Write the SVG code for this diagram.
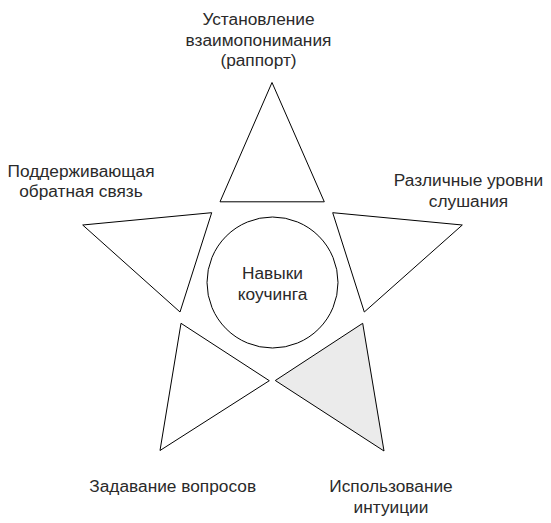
<svg xmlns="http://www.w3.org/2000/svg" width="551" height="523" viewBox="0 0 551 523">
<style>
.shape{fill:#ffffff;stroke:#000000;stroke-width:1;stroke-linejoin:miter}
.gray{fill:#ebebeb}
.lbl{font-family:"Liberation Sans",Arial,sans-serif;font-size:17.3px;fill:#2a2a2a;text-anchor:middle}
</style>
<rect width="551" height="523" fill="#ffffff"/>
<g id="center">
<circle class="shape" cx="272.5" cy="282.5" r="65.5"/>
<text class="lbl" x="272.5" y="279">Навыки</text>
<text class="lbl" x="272.5" y="300">коучинга</text>
</g>
<g id="top">
<polygon class="shape" points="272,82.5 220,201.8 324.3,201.8"/>
<text class="lbl" x="258.5" y="25">Установление</text>
<text class="lbl" x="258.5" y="46">взаимопонимания</text>
<text class="lbl" x="258.5" y="66">(раппорт)</text>
</g>
<g id="left">
<polygon class="shape" points="82.7,225 211.7,212.7 180,312"/>
<text class="lbl" x="81" y="177">Поддерживающая</text>
<text class="lbl" x="81" y="197">обратная связь</text>
</g>
<g id="right">
<polygon class="shape" points="332.7,212.7 462.3,225 364.3,312"/>
<text class="lbl" x="468.5" y="186">Различные уровни</text>
<text class="lbl" x="468.5" y="206.5">слушания</text>
</g>
<g id="bottom-left">
<polygon class="shape" points="181,323.3 269.3,380.7 160,450.5"/>
<text class="lbl" x="172.7" y="492">Задавание вопросов</text>
</g>
<g id="bottom-right">
<polygon class="shape gray" points="362.7,323.3 275.3,380.5 384,451"/>
<text class="lbl" x="391" y="492">Использование</text>
<text class="lbl" x="391" y="513">интуиции</text>
</g>
<g id="connectors"/>
</svg>
